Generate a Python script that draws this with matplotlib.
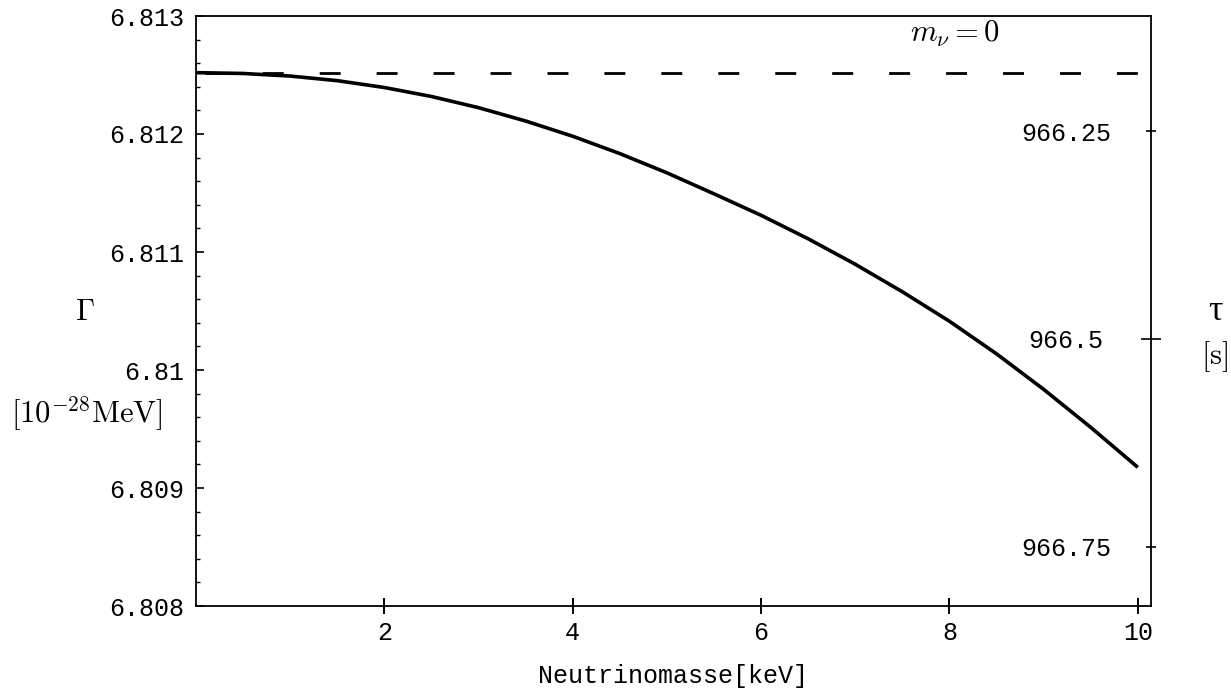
import matplotlib.pyplot as plt
from matplotlib.ticker import MultipleLocator

plt.rcParams['mathtext.fontset'] = 'cm'
plt.rcParams['lines.scale_dashes'] = False

# neutrino mass [keV] and decay width [1e-28 MeV]
mass = [0, 0.5, 1, 1.5, 2, 2.5, 3, 3.5, 4, 4.5, 5,
        5.5, 6, 6.5, 7, 7.5, 8, 8.5, 9, 9.5, 10]
gamma = [6.812520, 6.812513, 6.812491, 6.812452, 6.812394, 6.812318, 6.812223,
         6.812110, 6.811981, 6.811834, 6.811671, 6.811493, 6.811311, 6.811112,
         6.810896, 6.810663, 6.810413, 6.810137, 6.809836, 6.809514, 6.809175]
gamma_massless = 6.81252

# tau = hbar / Gamma
hbar = 6582.119
tau_major = [966.5]
tau_minor = [966.25, 966.75]

x_ticks = [2, 4, 6, 8, 10]
y_ticks = [6.808, 6.809, 6.810, 6.811, 6.812, 6.813]
y_labels = ['6.808', '6.809', '6.81', '6.811', '6.812', '6.813']

mono = 'Liberation Mono'
fig = plt.figure(figsize=(12.31, 6.89), dpi=100)
ax = fig.add_axes([196 / 1231, 83 / 689, 955 / 1231, 590 / 689])

ax.plot(mass, gamma, color='black', lw=2.6, solid_capstyle='butt', solid_joinstyle='round')
ax.plot([mass[0], mass[-1]], [gamma_massless, gamma_massless], color='black', lw=2.0,
        linestyle=(34.3, (15.1, 25.9)))

ax.set_xlim(0, 10.14)
ax.set_ylim(6.808, 6.813)
ax.set_xticks(x_ticks)
ax.set_xticklabels([str(t) for t in x_ticks], fontfamily=mono, fontsize=18)
ax.set_yticks(y_ticks)
ax.set_yticklabels(y_labels, fontfamily=mono, fontsize=18)
ax.yaxis.set_minor_locator(MultipleLocator(0.0002))
ax.tick_params(axis='x', direction='inout', length=11, width=1.4, pad=5)
ax.tick_params(axis='y', which='major', direction='in', length=5.5, width=1.2, pad=8.6)
ax.tick_params(axis='y', which='minor', direction='in', length=3, width=1.0)
ax.tick_params(right=False, top=False)
for s in ax.spines.values():
    s.set_linewidth(1.3)

ax.set_xlabel('Neutrinomasse[keV]', fontfamily=mono, fontsize=18, labelpad=14)

ax2 = ax.twinx()
ax2.set_ylim(ax.get_ylim())
ax2.set_yticks([hbar / t for t in tau_major], labels=[str(t) for t in tau_major])
ax2.set_yticks([hbar / t for t in tau_minor], labels=[str(t) for t in tau_minor], minor=True)
ax2.tick_params(axis='y', which='major', direction='inout', length=14.4, width=1.2, pad=-41.8)
ax2.tick_params(axis='y', which='minor', direction='inout', length=7.2, width=1.2, pad=-32.4)
for lbl in ax2.get_yticklabels() + ax2.get_yticklabels(minor=True):
    lbl.set_ha('right')
    lbl.set_fontfamily(mono)
    lbl.set_fontsize(18)
for s in ax2.spines.values():
    s.set_visible(False)

fig.text(85 / 1231, 1 - 312 / 689, r'$\Gamma$', fontsize=22, ha='center', va='center')
fig.text(87 / 1231, 1 - 414 / 689, r'$[10^{-28}\mathrm{MeV}]$', fontsize=22, ha='center', va='center')
fig.text(1215 / 1231, 1 - 312 / 689, 'τ', fontfamily='Liberation Serif', fontsize=26, ha='center', va='center')
fig.text(1215 / 1231, 1 - 357 / 689, r'$[\mathrm{s}]$', fontsize=22, ha='center', va='center')
ax.text(955 / 1231, 1 - 34 / 689, r'$m_\nu=0$', transform=fig.transFigure, fontsize=22,
        ha='center', va='center')

fig.savefig('out.png', dpi=100)
